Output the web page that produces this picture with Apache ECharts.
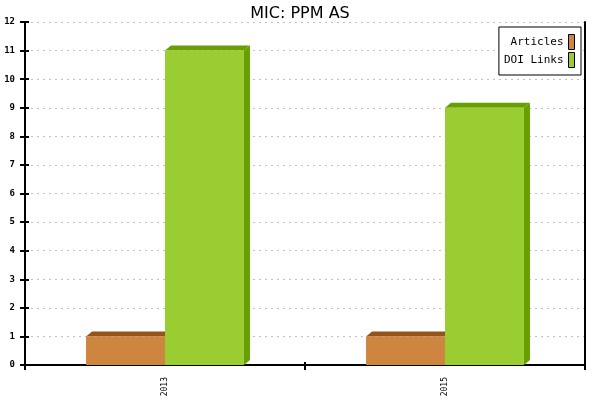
<!DOCTYPE html>
<html><head><meta charset="utf-8">
<script src="https://cdn.jsdelivr.net/npm/echarts@6/dist/echarts.min.js"></script>
<style>html,body{margin:0;padding:0;background:#fff}#c{width:600px;height:400px}</style>
</head><body><div id="c"></div>
<script>
const categories = ['2013', '2015'];
const articles = [1, 1];
const doiLinks = [11, 9];
const yTicks = [0, 1, 2, 3, 4, 5, 6, 7, 8, 9, 10, 11, 12];

const chart = echarts.init(document.getElementById('c'), null, {renderer: 'canvas'});
const MONO = '"DejaVu Sans Mono", "Liberation Mono", monospace';

function make3D(side, front, dark) {
  return function (params, api) {
    const idx = api.value(0);
    const val = api.value(1);
    const top = api.coord([idx, val]);
    const base = api.coord([idx, 0]);
    const band = api.size([1, 0])[0];
    const w = band * 0.282;
    const x0 = side === 0 ? top[0] - w : top[0];
    const x1 = x0 + w;
    const yT = top[1], yB = base[1];
    const dx = 6, dy = 5;
    return {
      type: 'group',
      children: [
        {type: 'polygon', shape: {points: [[x0, yT], [x0 + dx, yT - dy], [x1 + dx, yT - dy], [x1, yT]]}, style: {fill: dark}},
        {type: 'polygon', shape: {points: [[x1, yT], [x1 + dx, yT - dy], [x1 + dx, yB - dy], [x1, yB]]}, style: {fill: dark}},
        {type: 'rect', shape: {x: x0, y: yT, width: w, height: yB - yT}, style: {fill: front}}
      ]
    };
  };
}

chart.setOption({
  animation: false,
  title: {text: 'MIC: PPM AS', left: 'center', top: 1,
    textStyle: {fontFamily: '"DejaVu Sans", sans-serif', fontSize: 16, fontWeight: 'normal', color: '#000'}},
  legend: {
    orient: 'vertical', right: 19, top: 27,
    align: 'right',
    itemWidth: 6, itemHeight: 15, itemGap: 2,
    padding: [7, 6, 7, 5],
    borderColor: '#000', borderWidth: 1, borderRadius: 0, backgroundColor: '#fff',
    icon: 'rect',
    itemStyle: {borderColor: '#000', borderWidth: 1},
    textStyle: {fontFamily: MONO, fontSize: 11, color: '#000'},
    data: ['Articles', 'DOI Links']
  },
  grid: {left: 25, right: 15, top: 22, bottom: 35, containLabel: false},
  xAxis: [{
    type: 'category', data: categories, boundaryGap: true,
    axisLine: {lineStyle: {color: '#000', width: 2}},
    axisTick: {show: true, length: 5, lineStyle: {color: '#000', width: 2}},
    axisLabel: {rotate: 90, margin: 12, fontFamily: MONO, fontSize: 8, color: '#000'}
  }, {
    type: 'category', data: categories, boundaryGap: true, position: 'bottom',
    axisLine: {show: false}, axisLabel: {show: false},
    axisTick: {show: true, inside: true, length: 3, lineStyle: {color: '#000', width: 2}}
  }],
  yAxis: [{
    type: 'value', min: 0, max: 12, interval: 1,
    axisLine: {show: true, lineStyle: {color: '#000', width: 2}},
    axisTick: {show: true, length: 5, lineStyle: {color: '#000', width: 2}},
    axisLabel: {margin: 10, fontFamily: MONO, fontSize: 9, fontWeight: 'bold', color: '#000',
      formatter: function (v) { return yTicks.indexOf(v) >= 0 ? String(v) : ''; }},
    splitLine: {show: true, lineStyle: {color: '#c0c0c0', type: [2, 4], width: 1}}
  }, {
    type: 'value', min: 0, max: 12, interval: 1, position: 'left',
    axisLine: {show: false}, axisLabel: {show: false}, splitLine: {show: false},
    axisTick: {show: true, inside: true, length: 4, lineStyle: {color: '#000', width: 2}}
  }, {
    type: 'value', min: 0, max: 12, interval: 1, position: 'right',
    axisLine: {show: true, lineStyle: {color: '#000', width: 2}},
    axisTick: {show: false}, axisLabel: {show: false}, splitLine: {show: false}
  }],
  series: [{
    name: 'Articles', type: 'custom',
    itemStyle: {color: '#CD853F'},
    renderItem: make3D(0, '#CD853F', '#95521A'),
    data: articles.map((v, i) => [i, v])
  }, {
    name: 'DOI Links', type: 'custom',
    itemStyle: {color: '#9ACD32'},
    renderItem: make3D(1, '#9ACD32', '#679E00'),
    data: doiLinks.map((v, i) => [i, v])
  }]
});
</script></body></html>
